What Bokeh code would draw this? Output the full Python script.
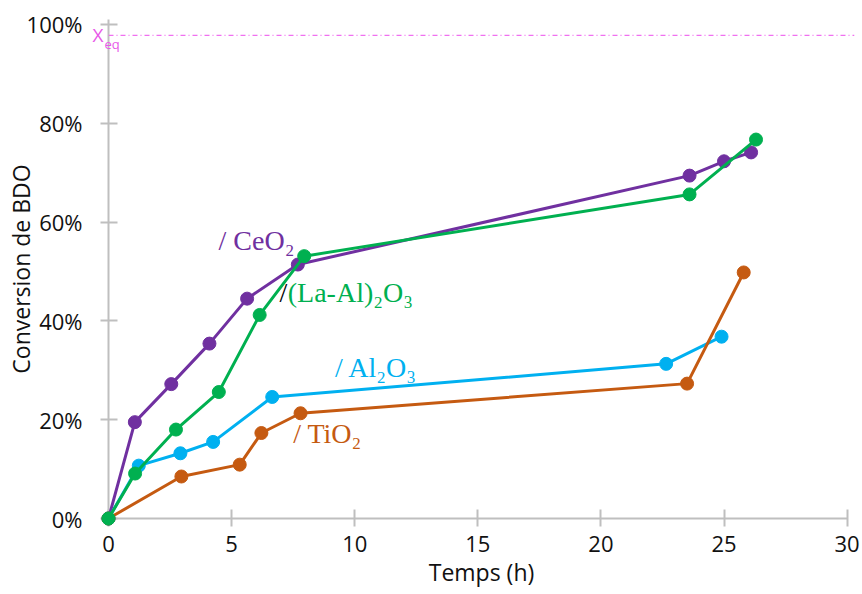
from bokeh.plotting import figure
from bokeh.models import FixedTicker, PrintfTickFormatter, Range1d, Span, Label
from bokeh.core.properties import value
from bokeh.embed import file_html
from bokeh.resources import INLINE

# ---- data ----
time_ceo2 = [0, 1.07, 2.55, 4.1, 5.63, 7.69, 23.6, 25.0, 26.1]
conv_ceo2 = [0, 19.5, 27.2, 35.4, 44.5, 51.4, 69.4, 72.3, 74.1]

time_laal = [0, 1.08, 2.74, 4.48, 6.14, 7.95, 23.6, 26.3]
conv_laal = [0, 9.1, 18.0, 25.6, 41.2, 53.1, 65.6, 76.7]

time_al2o3 = [0, 1.23, 2.92, 4.25, 6.65, 22.65, 24.9]
conv_al2o3 = [0, 10.7, 13.2, 15.5, 24.6, 31.3, 36.8]

time_tio2 = [0, 2.96, 5.33, 6.21, 7.8, 23.5, 25.8]
conv_tio2 = [0, 8.5, 10.9, 17.3, 21.3, 27.3, 49.8]

x_eq = 97.8

x_ticks = [0, 5, 10, 15, 20, 25, 30]
y_ticks = [0, 20, 40, 60, 80, 100]

series = [
    ("CeO2", time_ceo2, conv_ceo2, "#7030A0"),
    ("Al2O3", time_al2o3, conv_al2o3, "#00B0F0"),
    ("TiO2", time_tio2, conv_tio2, "#C55A11"),
    ("LaAl", time_laal, conv_laal, "#00B050"),
]

# label anchors (data coords)
labels = [
    ("/ CeO\u2082", 4.47, 56.3, "#7030A0"),
    ("/ Al\u2082O\u2083", 9.2, 30.6, "#00B0F0"),
    ("/ TiO\u2082", 7.5, 17.2, "#C55A11"),
]

p = figure(width=862, height=594,
           x_range=Range1d(0, 30.3), y_range=Range1d(0, 101),
           output_backend="svg", toolbar_location=None,
           min_border_left=108, min_border_right=8,
           min_border_top=19, min_border_bottom=76)

p.outline_line_color = None
p.grid.visible = False
p.background_fill_color = "white"
p.border_fill_color = "white"

for ax in (p.xaxis[0], p.yaxis[0]):
    ax.axis_line_color = "#BFBFBF"
    ax.axis_line_width = 2
    ax.major_tick_line_color = "#BFBFBF"
    ax.major_tick_line_width = 2
    ax.major_tick_in = 9
    ax.major_tick_out = 8
    ax.minor_tick_line_color = None
    ax.major_label_text_font = "Open Sans"
    ax.major_label_text_font_size = "22px"
    ax.major_label_text_color = "#111111"
    ax.axis_label_text_font = "Open Sans"
    ax.axis_label_text_font_size = "23px"
    ax.axis_label_text_font_style = "normal"
    ax.axis_label_text_color = "#111111"

p.xaxis[0].bounds = (0, 30)
p.xaxis[0].ticker = FixedTicker(ticks=x_ticks)
p.yaxis[0].ticker = FixedTicker(ticks=y_ticks)
p.yaxis[0].formatter = PrintfTickFormatter(format="%d%%")
p.xaxis[0].axis_label = "Temps (h)"
p.yaxis[0].axis_label = "Conversion de BDO"
p.xaxis[0].major_label_standoff = 9
p.yaxis[0].major_label_standoff = 18
p.xaxis[0].axis_label_standoff = 1
p.yaxis[0].axis_label_standoff = -13

# equilibrium line
p.add_layout(Span(location=x_eq, dimension="width", line_color="#F070F0",
                  line_width=1.2, line_dash="5 3 1 3"))
p.text(x=[0], y=[x_eq], text=["X"], x_offset=-16, y_offset=0,
       text_font=value("Open Sans"), text_font_size="19px",
       text_color="#E858E8", text_baseline="middle", text_align="left",
       level="overlay")
p.text(x=[0], y=[x_eq], text=["eq"], x_offset=-4, y_offset=9,
       text_font=value("Open Sans"), text_font_size="13px",
       text_color="#E858E8", text_baseline="middle", text_align="left",
       level="overlay")

for name, xs, ys, col in series:
    p.line(xs, ys, line_color=col, line_width=3, level="overlay")
    p.scatter(xs, ys, size=13, fill_color=col, line_color=col, level="overlay")

for txt, x, y, col in labels:
    p.add_layout(Label(x=x, y=y, text=txt, text_font="Liberation Serif",
                       text_font_size="28px", text_color=col,
                       text_baseline="middle", text_align="left"))

p.add_layout(Label(x=6.95, y=45.8, text="/", text_font="Liberation Serif",
                   text_font_size="28px", text_color="#000000",
                   text_baseline="middle", text_align="left"))
p.add_layout(Label(x=7.28, y=45.8, text="(La-Al)\u2082O\u2083",
                   text_font="Liberation Serif", text_font_size="28px",
                   text_color="#00B050", text_baseline="middle",
                   text_align="left"))

open("out.html", "w").write(file_html(p, INLINE))
